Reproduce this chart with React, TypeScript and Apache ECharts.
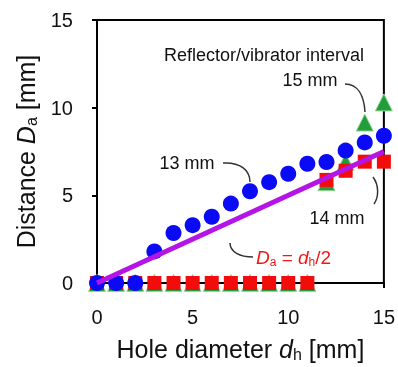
import React, { useEffect, useRef } from 'react';
import * as echarts from 'echarts';

const holeDiameters = [0, 1, 2, 3, 4, 5, 6, 7, 8, 9, 10, 11, 12, 13, 14, 15];
const gap13mm = [0, 0, 0, 1.8, 2.85, 3.3, 3.78, 4.53, 5.23, 5.75, 6.23, 6.8, 6.9, 7.55, 8.02, 8.4];
const gap14mm = [0, 0, 0, 0, 0, 0, 0, 0, 0, 0, 0, 0, 5.88, 6.4, 6.92, 6.92];
const gap15mm = [0, 0, 0, 0, 0, 0, 0, 0, 0, 0, 0, 0, 5.75, 6.9, 9.15, 10.3];
const theoryX = [0, 15];
const theoryY = [0, 7.5];
const axisMin = 0;
const axisMax = 15;
const axisInterval = 5;

const FONT = 'Liberation Sans, Arial, sans-serif';

export default function App() {
  const ref = useRef<HTMLDivElement>(null);
  useEffect(() => {
    if (!ref.current) return;
    const chart = echarts.init(ref.current, undefined, { renderer: 'svg' });
    const pair = (xs: number[], ys: number[]) => xs.map((x, i) => [x, ys[i]]);
    const leader = (x1: number, y1: number, c1x: number, c1y: number, c2x: number, c2y: number, x2: number, y2: number) => ({
      type: 'bezierCurve',
      shape: { x1, y1, cpx1: c1x, cpy1: c1y, cpx2: c2x, cpy2: c2y, x2, y2 },
      style: { stroke: '#333', lineWidth: 1.5, fill: 'none' },
      z: 10,
    });
    const label = (text: string, x: number, y: number) => ({
      type: 'text',
      x,
      y,
      style: { text, fontSize: 18, fontFamily: FONT, fill: '#111', align: 'center', verticalAlign: 'middle' },
      z: 10,
    });
    const titleRich = {
      n: { fontSize: 25, fontFamily: FONT, color: '#111', lineHeight: 27 },
      i: { fontSize: 25, fontFamily: FONT, fontStyle: 'italic', color: '#111', lineHeight: 27 },
      s: { fontSize: 16, fontFamily: FONT, color: '#111', lineHeight: 8, verticalAlign: 'bottom' },
    };
    chart.setOption({
      animation: false,
      grid: { left: 97, right: 13, top: 20, bottom: 82, show: true, borderColor: '#000', borderWidth: 2 },
      xAxis: {
        type: 'value',
        min: axisMin,
        max: axisMax,
        interval: axisInterval,
        splitLine: { show: false },
        axisLine: { show: true, lineStyle: { color: '#000', width: 2 } },
        axisTick: { show: true, inside: false, length: 5, lineStyle: { color: '#000', width: 2 } },
        axisLabel: { fontSize: 20, fontFamily: FONT, color: '#111', margin: 24 },
        name: '{n|Hole diameter }{i|d}{s|h}{n| [mm]}',
        nameLocation: 'middle',
        nameGap: 52,
        nameTextStyle: { fontFamily: FONT, color: '#111', rich: titleRich },
      },
      yAxis: {
        type: 'value',
        min: axisMin,
        max: axisMax,
        interval: axisInterval,
        splitLine: { show: false },
        axisLine: { show: true, lineStyle: { color: '#000', width: 2 } },
        axisTick: { show: true, inside: false, length: 5, lineStyle: { color: '#000', width: 2 } },
        axisLabel: { fontSize: 20, fontFamily: FONT, color: '#111', margin: 24 },
        name: '{n|Distance }{i|D}{s|a}{n| [mm]}',
        nameLocation: 'middle',
        nameRotate: 90,
        nameGap: 54,
        nameTextStyle: { fontFamily: FONT, color: '#111', rich: titleRich },
      },
      series: [
        {
          name: '15 mm',
          type: 'scatter',
          symbol: 'triangle',
          symbolSize: 17,
          clip: false,
          z: 2,
          itemStyle: { color: '#1f9e3a', borderColor: '#9ad49a', borderWidth: 1, opacity: 1 },
          data: pair(holeDiameters, gap15mm),
        },
        {
          name: '14 mm',
          type: 'scatter',
          symbol: 'rect',
          symbolSize: 14,
          clip: false,
          z: 3,
          itemStyle: { color: '#f20c0c', opacity: 1 },
          data: pair(holeDiameters, gap14mm),
        },
        {
          name: '13 mm',
          type: 'scatter',
          symbol: 'circle',
          symbolSize: 16,
          clip: false,
          z: 4,
          itemStyle: { color: '#0a0af5', opacity: 1 },
          data: pair(holeDiameters, gap13mm),
        },
        {
          name: 'Da = dh/2',
          type: 'line',
          showSymbol: false,
          symbol: 'none',
          z: 5,
          lineStyle: { color: '#b414e6', width: 5 },
          data: pair(theoryX, theoryY),
        },
      ],
      graphic: [
        label('Reflector/vibrator interval', 264, 55),
        label('15 mm', 310, 80),
        label('13 mm', 187, 163),
        label('14 mm', 337, 218),
        {
          type: 'text',
          x: 256,
          y: 257,
          z: 10,
          style: {
            text: '{i|D}{s|a}{n| = }{i|d}{s|h}{n|/2}',
            fontFamily: FONT,
            verticalAlign: 'middle',
            align: 'left',
            rich: {
              n: { fontSize: 19, fontFamily: FONT, fill: '#f01818', lineHeight: 21 },
              i: { fontSize: 19, fontFamily: FONT, fontStyle: 'italic', fill: '#f01818', lineHeight: 21 },
              s: { fontSize: 12, fontFamily: FONT, fill: '#f01818', lineHeight: 6, verticalAlign: 'bottom' },
            },
          },
        },
        leader(345, 84, 358, 84, 364, 96, 365, 112),
        leader(223, 163, 240, 162, 250, 170, 250, 182),
        leader(373, 177, 379, 185, 379, 197, 374, 204),
        leader(230, 243, 230, 252, 240, 257, 253, 257),
      ],
    });
    return () => chart.dispose();
  }, []);
  return <div ref={ref} style={{ position: 'fixed', left: 0, top: 0, width: 398, height: 367 }} />;
}
